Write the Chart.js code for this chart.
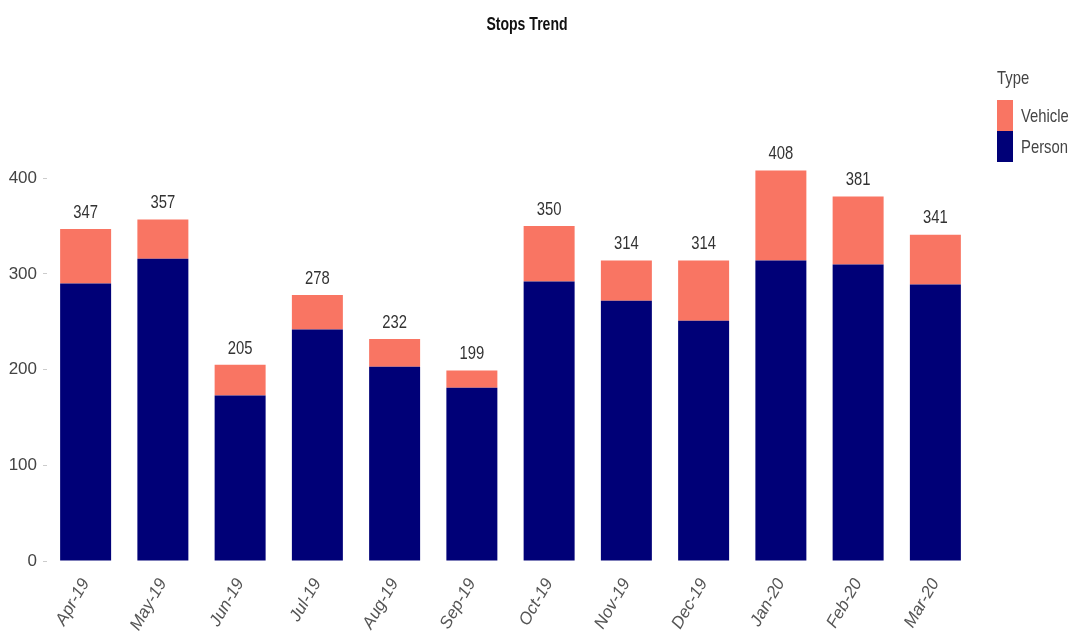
<!DOCTYPE html>
<html>
<head>
<meta charset="utf-8">
<script src="https://cdn.jsdelivr.net/npm/chart.js@4/dist/chart.umd.min.js"></script>
<style>
  html, body { margin: 0; padding: 0; background: #fff; }
  #wrap { position: relative; width: 1073px; height: 641px; }
  #title { position: absolute; left: 0; width: 1054px; top: 14px; text-align: center; font-family: "Liberation Sans", Arial, sans-serif; font-weight: bold; font-size: 18px; color: #111; transform: scaleX(0.78); transform-origin: 527px 0; }
  #legend { position: absolute; left: 997px; top: 67px; font-family: "Liberation Sans", Arial, sans-serif; font-size: 19px; color: #444; }
  #legend .row { display: flex; align-items: center; height: 31px; }
  #legend .sw { width: 16px; height: 31px; margin-right: 8px; }
  #legend .txt { display: inline-block; transform: scaleX(0.78); transform-origin: 0 50%; }
  #legend .title { height: 33px; }
</style>
</head>
<body>
<div id="wrap">
  <canvas id="myChart" width="1073" height="641"></canvas>
  <div id="title">Stops Trend</div>
  <div id="legend"></div>
</div>
<script>
const months = ['Apr-19', 'May-19', 'Jun-19', 'Jul-19', 'Aug-19', 'Sep-19', 'Oct-19', 'Nov-19', 'Dec-19', 'Jan-20', 'Feb-20', 'Mar-20'];
const personStops = [290, 316, 173, 242, 203, 181, 292, 272, 251, 314, 310, 289];
const vehicleStops = [57, 41, 32, 36, 29, 18, 58, 42, 63, 94, 71, 52];
const yTicks = [0, 100, 200, 300, 400];

const personColor = '#000077';
const vehicleColor = '#F97563';
const fontName = '"Liberation Sans", Arial, sans-serif';

// legend on the right, vehicle on top like the stack
const legend = document.getElementById('legend');
legend.innerHTML = '<div class="title"><span class="txt">Type</span></div>' +
    '<div class="row"><div class="sw" style="background:' + vehicleColor + '"></div><span class="txt">Vehicle</span></div>' +
    '<div class="row"><div class="sw" style="background:' + personColor + '"></div><span class="txt">Person</span></div>';

// total on top of each stacked bar, squeezed a bit like the original narrow font
const totalLabels = {
    id: 'totalLabels',
    afterDatasetsDraw(chart) {
        const ctx = chart.ctx;
        const top = chart.getDatasetMeta(1);
        ctx.save();
        ctx.font = '19px ' + fontName;
        ctx.fillStyle = '#333';
        ctx.textAlign = 'center';
        ctx.textBaseline = 'bottom';
        top.data.forEach(function (bar, i) {
            const total = personStops[i] + vehicleStops[i];
            ctx.save();
            ctx.translate(bar.x, bar.y - 7);
            ctx.scale(0.78, 1);
            ctx.fillText(total, 0, 0);
            ctx.restore();
        });
        ctx.restore();
    }
};

const myChart = new Chart('myChart', {
    type: 'bar',
    data: {
        labels: months,
        datasets: [
            { label: 'Person', data: personStops, backgroundColor: personColor },
            { label: 'Vehicle', data: vehicleStops, backgroundColor: vehicleColor }
        ]
    },
    options: {
        responsive: false,
        animation: false,
        categoryPercentage: 0.66,
        barPercentage: 1,
        layout: { padding: { left: 0, right: 99, top: 140, bottom: 0 } },
        plugins: {
            legend: { display: false },
            tooltip: { enabled: false },
            title: { display: false }
        },
        scales: {
            x: {
                stacked: true,
                grid: { display: false },
                border: { display: false },
                ticks: {
                    color: '#555',
                    font: { family: fontName, size: 17, style: 'italic' },
                    minRotation: 60,
                    maxRotation: 60,
                    padding: 6
                },
                afterFit(scale) { scale.height = 80; }
            },
            y: {
                stacked: true,
                min: 0,
                max: 440,
                grid: { display: true, drawOnChartArea: false, drawTicks: true, tickLength: 4, color: '#ccc' },
                border: { display: false },
                ticks: {
                    stepSize: 100,
                    color: '#444',
                    font: { family: fontName, size: 17 },
                    padding: 6
                },
                afterBuildTicks(scale) {
                    scale.ticks = yTicks.map(v => ({ value: v }));
                },
                afterFit(scale) { scale.width = 47; }
            }
        }
    },
    plugins: [totalLabels]
});
</script>
</body>
</html>
